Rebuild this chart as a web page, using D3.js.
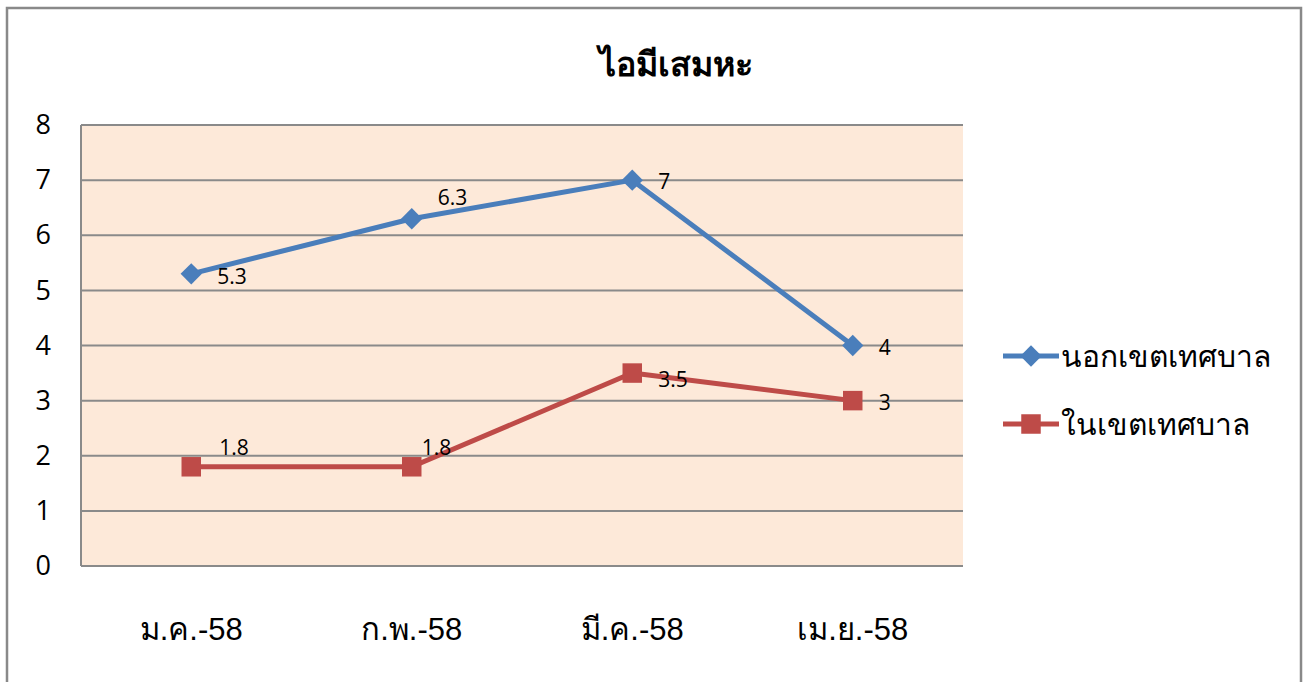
<!DOCTYPE html>
<html>
<head>
<meta charset="utf-8">
<script src="https://cdn.jsdelivr.net/npm/d3@7"></script>
<style>
  body { margin: 0; background: #fff; }
  svg { display: block; font-family: Tahoma, "Noto Sans", "DejaVu Sans", sans-serif; }
</style>
</head>
<body>
<div id="chart"></div>
<script>
const title = 'ไอมีเสมหะ';
const months = ['ม.ค.-58', 'ก.พ.-58', 'มี.ค.-58', 'เม.ย.-58'];
const outsideValues = [5.3, 6.3, 7, 4];
const insideValues = [1.8, 1.8, 3.5, 3];
const seriesNames = ['นอกเขตเทศบาล', 'ในเขตเทศบาล'];
const yTicks = [0, 1, 2, 3, 4, 5, 6, 7, 8];

const WIDTH = 1303;
const HEIGHT = 682;
const plot = { left: 81, right: 963, top: 125, bottom: 566 };

const series = [
  { name: seriesNames[0], values: outsideValues, color: '#4a7ebb', shape: d3.symbolDiamond2, size: 290,
    labelDx: [26, 26, 26, 26], labelDy: [3, -21, 2, 2] },
  { name: seriesNames[1], values: insideValues, color: '#be4b48', shape: d3.symbolSquare, size: 380,
    labelDx: [28, 10, 26, 26], labelDy: [-19, -19, 7, 2] },
];

const svg = d3.select('#chart').append('svg')
  .attr('width', WIDTH).attr('height', HEIGHT);

// outer frame
svg.append('rect')
  .attr('x', 7).attr('y', 8).attr('width', 1294).attr('height', 700)
  .attr('fill', '#fff').attr('stroke', '#898989').attr('stroke-width', 2.5);

const x = d3.scaleBand().domain(months).range([plot.left, plot.right]);
const y = d3.scaleLinear().domain([0, 8]).range([plot.bottom, plot.top]);

svg.append('rect')
  .attr('x', plot.left).attr('y', plot.top)
  .attr('width', plot.right - plot.left).attr('height', plot.bottom - plot.top)
  .attr('fill', '#fde9d9');

// gridlines
svg.append('g')
  .selectAll('line')
  .data(yTicks)
  .join('line')
  .attr('x1', plot.left).attr('x2', plot.right)
  .attr('y1', (d) => y(d)).attr('y2', (d) => y(d))
  .attr('stroke', '#8a8a8a').attr('stroke-width', 2);

svg.append('line')
  .attr('x1', plot.left).attr('x2', plot.left)
  .attr('y1', plot.top).attr('y2', plot.bottom)
  .attr('stroke', '#8a8a8a').attr('stroke-width', 2);

// y axis labels
const yAxis = d3.axisLeft(y).tickValues(yTicks).tickSize(0).tickPadding(30);
svg.append('g')
  .attr('transform', `translate(${plot.left},0)`)
  .call(yAxis)
  .call((g) => g.select('.domain').remove())
  .selectAll('text')
  .attr('font-size', 27).attr('fill', '#000')
  .attr('font-family', '"Open Sans", "Noto Sans", sans-serif');

// x axis labels
const xAxis = d3.axisBottom(x).tickSize(0).tickPadding(52);
svg.append('g')
  .attr('transform', `translate(0,${plot.bottom})`)
  .call(xAxis)
  .call((g) => g.select('.domain').remove())
  .selectAll('text')
  .attr('font-size', 31).attr('fill', '#000');

const cx = (i) => x(months[i]) + x.bandwidth() / 2;

const line = d3.line().x((_, i) => cx(i)).y((d) => y(d));

series.forEach((s) => {
  svg.append('path')
    .attr('d', line(s.values))
    .attr('fill', 'none').attr('stroke', s.color).attr('stroke-width', 5)
    .attr('stroke-linejoin', 'round');

  svg.append('g')
    .selectAll('path')
    .data(s.values)
    .join('path')
    .attr('transform', (d, i) => `translate(${cx(i)},${y(d)})`)
    .attr('d', d3.symbol(s.shape, s.size))
    .attr('fill', s.color);

  svg.append('g')
    .selectAll('text')
    .data(s.values)
    .join('text')
    .attr('x', (d, i) => cx(i) + s.labelDx[i])
    .attr('y', (d, i) => y(d) + s.labelDy[i])
    .attr('dy', '0.35em')
    .attr('font-size', 21)
    .attr('font-family', '"Open Sans", "Noto Sans", sans-serif')
    .text((d) => d);
});

// title
svg.append('text')
  .attr('x', 676).attr('y', 64)
  .attr('dy', '0.35em')
  .attr('text-anchor', 'middle')
  .attr('font-size', 34).attr('font-weight', 'bold')
  .text(title);

// legend
const legend = svg.append('g')
  .selectAll('g')
  .data(series)
  .join('g')
  .attr('transform', (_, i) => `translate(1003,${356 + i * 68})`);

legend.append('line')
  .attr('x1', 0).attr('x2', 56)
  .attr('stroke', (d) => d.color).attr('stroke-width', 5);

legend.append('path')
  .attr('transform', 'translate(28,0)')
  .attr('d', (d) => d3.symbol(d.shape, d.size)())
  .attr('fill', (d) => d.color);

legend.append('text')
  .attr('x', 58).attr('dy', '0.35em')
  .attr('font-size', 30)
  .text((d) => d.name);
</script>
</body>
</html>
